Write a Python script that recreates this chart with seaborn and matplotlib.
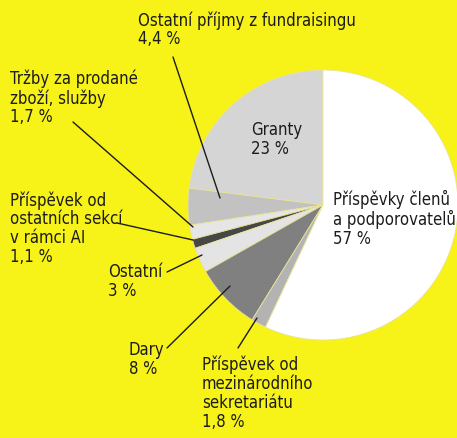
import matplotlib
matplotlib.use("Agg")
import matplotlib.pyplot as plt
import seaborn as sns

# Struktura příjmů (v %)
labels = [
    "Granty",
    "Ostatní příjmy z fundraisingu",
    "Tržby za prodané zboží, služby",
    "Příspěvek od ostatních sekcí v rámci AI",
    "Ostatní",
    "Dary",
    "Příspěvek od mezinárodního sekretariátu",
    "Příspěvky členů a podporovatelů",
]
values = [23, 4.4, 1.7, 1.1, 3, 8, 1.8, 57]
value_labels = ["23 %", "4,4 %", "1,7 %", "1,1 %", "3 %", "8 %", "1,8 %", "57 %"]
colors = ["#d5d5d5", "#c2c2c2", "#e6e6e6", "#474747", "#e4e4e4", "#808080", "#b3b3b3", "#ffffff"]

YELLOW = "#f7f218"
INK = "#1c1c1c"

sns.set_theme(style="white")
plt.rcParams["font.family"] = ["DejaVu Sans"]
plt.rcParams["font.stretch"] = "condensed"

W, H = 457, 438
fig = plt.figure(figsize=(W / 100, H / 100), dpi=100, facecolor=YELLOW)
ax = fig.add_axes([0, 0, 1, 1])
ax.set_facecolor(YELLOW)

cx, cy, r = 323, 205, 135
ax.pie(values, colors=colors, startangle=90, counterclock=True,
       center=(cx, H - cy), radius=r,
       wedgeprops=dict(edgecolor="#e9e39a", linewidth=0.6))

# pie() resets the limits, so set them afterwards (pixel space, y up)
ax.set_xlim(0, W)
ax.set_ylim(0, H)
ax.set_aspect("equal")
ax.axis("off")

# texty: (index, x, y from top, text with line breaks)
texts = [
    (0, 251, 121, "Granty"),
    (7, 333, 190, "Příspěvky členů\na podporovatelů"),
    (1, 138, 11, "Ostatní příjmy z fundraisingu"),
    (2, 10, 70, "Tržby za prodané\nzboží, služby"),
    (3, 10, 191, "Příspěvek od\nostatních sekcí\nv rámci AI"),
    (4, 108, 263, "Ostatní"),
    (5, 129, 341, "Dary"),
    (6, 202, 356, "Příspěvek od\nmezinárodního\nsekretariátu"),
]
for i, x, y, t in texts:
    ax.text(x, H - y, t + "\n" + value_labels[i], ha="left", va="top",
            fontsize=12, fontstretch="condensed", color=INK, linespacing=1.05)

# odkazové čáry
leaders = [
    ((173, 57), (220, 198)),
    ((73, 122), (193, 227)),
    ((117, 223), (193, 240)),
    ((167, 272), (202, 255)),
    ((167, 348), (230, 286)),
    ((238, 348), (257, 318)),
]
for (x0, y0), (x1, y1) in leaders:
    ax.plot([x0, x1], [H - y0, H - y1], color=INK, linewidth=1.0)

fig.savefig("out.png", dpi=100, facecolor=YELLOW)
